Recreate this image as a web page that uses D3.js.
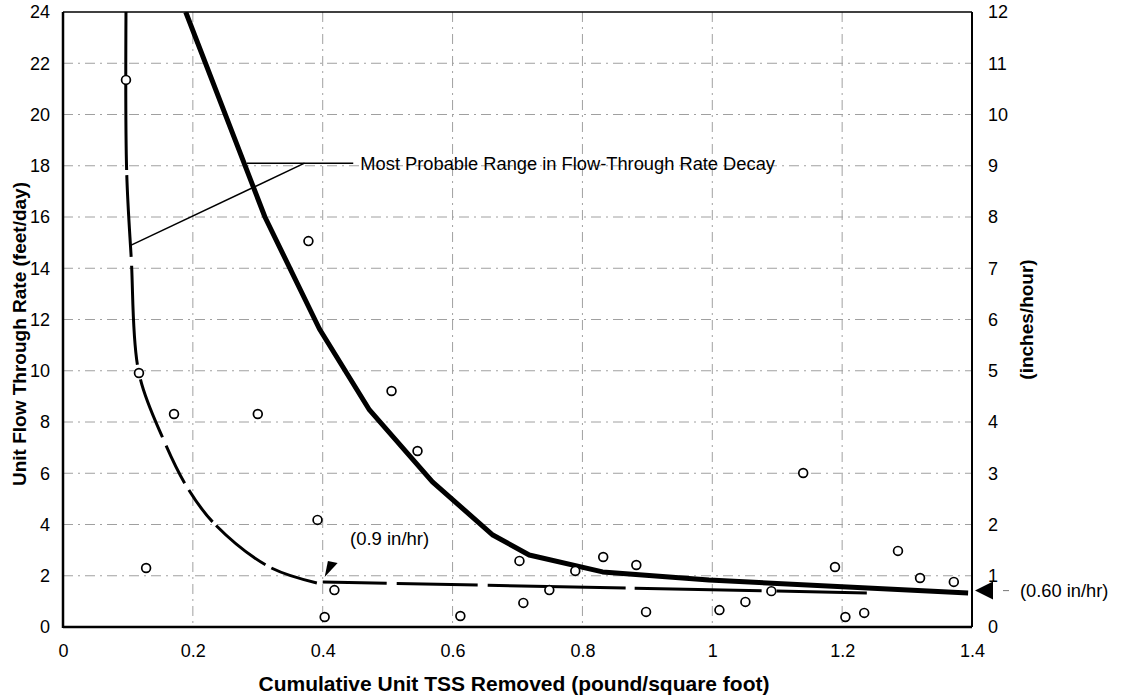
<!doctype html>
<html lang="en">
<head>
  <meta charset="utf-8">
  <title>Unit Flow Through Rate</title>
  <style>
    body { margin: 0; background: #fff; }
    text { font-family: "Liberation Sans", Arial, sans-serif; fill: #000; }
  </style>
</head>
<body>
<svg id="chart" width="1121" height="696"></svg>

<script src="https://d3js.org/d3.v7.min.js"></script>
<script>
// tick values
const xTicks = [0, 0.2, 0.4, 0.6, 0.8, 1, 1.2, 1.4];
const yTicks = [0, 2, 4, 6, 8, 10, 12, 14, 16, 18, 20, 22, 24];
const yRightTicks = [0, 1, 2, 3, 4, 5, 6, 7, 8, 9, 10, 11, 12];

// measured data points (cumulative TSS, flow rate ft/day)
const pointX = [0.097, 0.117, 0.128, 0.171, 0.300, 0.378, 0.392, 0.403, 0.418, 0.506,
  0.546, 0.612, 0.703, 0.709, 0.749, 0.789, 0.832, 0.883, 0.898, 1.011,
  1.051, 1.091, 1.140, 1.189, 1.205, 1.234, 1.286, 1.320, 1.372];
const pointY = [21.35, 9.91, 2.30, 8.31, 8.31, 15.06, 4.18, 0.39, 1.44, 9.21,
  6.87, 0.43, 2.58, 0.94, 1.44, 2.19, 2.73, 2.42, 0.59, 0.66,
  0.98, 1.40, 6.01, 2.34, 0.39, 0.55, 2.97, 1.91, 1.76];

// upper bound (thick solid)
const upperX = [0.189, 0.311, 0.395, 0.472, 0.569, 0.662, 0.718, 0.831, 0.995, 1.394];
const upperY = [24, 16.0, 11.63, 8.47, 5.66, 3.59, 2.81, 2.15, 1.83, 1.33];

// lower bound (dashed curve + tail)
const lowerX = [0.097, 0.098, 0.105, 0.117, 0.155, 0.192, 0.235, 0.318, 0.391];
const lowerY = [24, 17.83, 14.44, 9.91, 7.30, 5.42, 3.98, 2.34, 1.72];
const tailX = [0.40, 1.238];
const tailY = [1.76, 1.33];

// annotations
const rangeLabel = 'Most Probable Range in Flow-Through Rate Decay';
const lowLabel = '(0.9 in/hr)';
const endLabel = '(0.60 in/hr)';
const endValue = 1.42;

const svg = d3.select('#chart');
const mLeft = 63, mRight = 972, mTop = 12, mBottom = 627;

const x = d3.scaleLinear().domain([0, 1.4]).range([mLeft, mRight]);
const y = d3.scaleLinear().domain([0, 24]).range([mBottom, mTop]);
const yR = d3.scaleLinear().domain([0, 12]).range([mBottom, mTop]);

// grid
const grid = svg.append('g')
  .attr('stroke', '#a0a0a0')
  .attr('stroke-width', 1)
  .attr('stroke-dasharray', '10,5,2,5');
grid.selectAll('.gx')
  .data(xTicks.slice(1, -1))
  .enter().append('line')
  .attr('x1', d => x(d)).attr('x2', d => x(d))
  .attr('y1', mTop).attr('y2', mBottom);
grid.selectAll('.gy')
  .data(yTicks.slice(1, -1))
  .enter().append('line')
  .attr('x1', mLeft).attr('x2', mRight)
  .attr('y1', d => y(d)).attr('y2', d => y(d));

// axes
const fmt = d => String(d);
const axB = svg.append('g')
  .attr('transform', `translate(0 ${mBottom})`)
  .call(d3.axisBottom(x).tickValues(xTicks).tickFormat(fmt).tickSize(0).tickPadding(17));
const axL = svg.append('g')
  .attr('transform', `translate(${mLeft} 0)`)
  .call(d3.axisLeft(y).tickValues(yTicks).tickFormat(fmt).tickSize(0).tickPadding(13));
const axR = svg.append('g')
  .attr('transform', `translate(${mRight} 0)`)
  .call(d3.axisRight(yR).tickValues(yRightTicks).tickFormat(fmt).tickSize(0).tickPadding(16));
[axB, axL, axR].forEach(a => {
  a.select('.domain').remove();
  a.selectAll('text').style('font-size', '18px').attr('fill', '#000');
});

// frame
svg.append('line').attr('x1', mLeft).attr('x2', mRight).attr('y1', mTop).attr('y2', mTop)
  .attr('stroke', '#000').attr('stroke-width', 1.5);
svg.append('line').attr('x1', mRight).attr('x2', mRight).attr('y1', mTop).attr('y2', mBottom)
  .attr('stroke', '#000').attr('stroke-width', 2);
svg.append('line').attr('x1', mLeft).attr('x2', mLeft).attr('y1', mTop).attr('y2', mBottom + 1)
  .attr('stroke', '#000').attr('stroke-width', 2.5);
svg.append('line').attr('x1', mLeft).attr('x2', mRight).attr('y1', mBottom).attr('y2', mBottom)
  .attr('stroke', '#000').attr('stroke-width', 2.5);

// axis titles
svg.append('text')
  .attr('x', 514).attr('y', 691)
  .attr('text-anchor', 'middle')
  .style('font-size', '21px').style('font-weight', 'bold')
  .text('Cumulative Unit TSS Removed (pound/square foot)');
svg.append('text')
  .attr('transform', 'translate(26 334) rotate(-90)')
  .attr('text-anchor', 'middle')
  .style('font-size', '19px').style('font-weight', 'bold')
  .text('Unit Flow Through Rate (feet/day)');
svg.append('text')
  .attr('transform', `translate(1033 ${(mTop + mBottom) / 2}) rotate(-90)`)
  .attr('text-anchor', 'middle')
  .style('font-size', '19px').style('font-weight', 'bold')
  .text('(inches/hour)');

svg.append('clipPath').attr('id', 'clip')
  .append('rect').attr('x', mLeft).attr('y', mTop)
  .attr('width', mRight - mLeft + 4).attr('height', mBottom - mTop);
const plot = svg.append('g').attr('clip-path', 'url(#clip)');

const line = d3.line().x(d => x(d[0])).y(d => y(d[1]));

// lower bound curve
plot.append('path')
  .datum(d3.zip(lowerX, lowerY))
  .attr('fill', 'none').attr('stroke', '#000').attr('stroke-width', 3)
  .attr('stroke-dasharray', '158,5,82,9,99,15,62,9,42,8,40,5,63,7,60')
  .attr('d', d3.line().x(d => x(d[0])).y(d => y(d[1])).curve(d3.curveCatmullRom.alpha(0.5)));
plot.append('path')
  .datum(d3.zip(tailX, tailY))
  .attr('fill', 'none').attr('stroke', '#000').attr('stroke-width', 3)
  .attr('stroke-dasharray', '64,10,81,10,138,9,127,15,91')
  .attr('d', line);

// upper bound curve
plot.append('path')
  .datum(d3.zip(upperX, upperY))
  .attr('fill', 'none').attr('stroke', '#000').attr('stroke-width', 5)
  .attr('stroke-linejoin', 'round')
  .attr('d', line);

// leader lines
svg.append('line')
  .attr('x1', x(0.283)).attr('x2', x(0.447)).attr('y1', y(18.1)).attr('y2', y(18.1))
  .attr('stroke', '#000').attr('stroke-width', 1.5);
svg.append('line')
  .attr('x1', x(0.372)).attr('x2', x(0.105)).attr('y1', y(18.1)).attr('y2', y(14.9))
  .attr('stroke', '#000').attr('stroke-width', 1.5);
svg.append('text')
  .attr('x', x(0.458)).attr('y', y(18.1)).attr('dy', '0.35em')
  .style('font-size', '18.3px')
  .text(rangeLabel);

// points
svg.append('g').selectAll('circle')
  .data(d3.zip(pointX, pointY))
  .enter().append('circle')
  .attr('cx', d => x(d[0])).attr('cy', d => y(d[1]))
  .attr('r', 4.4)
  .attr('fill', '#fff').attr('stroke', '#000').attr('stroke-width', 1.7);

// (0.9 in/hr) marker
svg.append('path')
  .datum([[0.403, 1.95], [0.408, 2.58], [0.423, 2.50]])
  .attr('fill', '#000')
  .attr('d', d => line(d) + 'Z');
svg.append('text')
  .attr('x', x(0.442)).attr('y', y(3.47)).attr('dy', '0.35em')
  .style('font-size', '18.5px')
  .text(lowLabel);

// end marker on right axis
const ey = y(endValue);
svg.append('path')
  .attr('d', `M${mRight + 3},${ey} L${mRight + 21},${ey - 9} L${mRight + 21},${ey + 9} Z`)
  .attr('fill', '#000');
svg.append('line')
  .attr('x1', mRight + 31).attr('x2', mRight + 37).attr('y1', ey).attr('y2', ey)
  .attr('stroke', '#777').attr('stroke-width', 1);
svg.append('text')
  .attr('x', mRight + 48).attr('y', ey).attr('dy', '0.35em')
  .style('font-size', '18.3px')
  .text(endLabel);
</script>
</body>
</html>
